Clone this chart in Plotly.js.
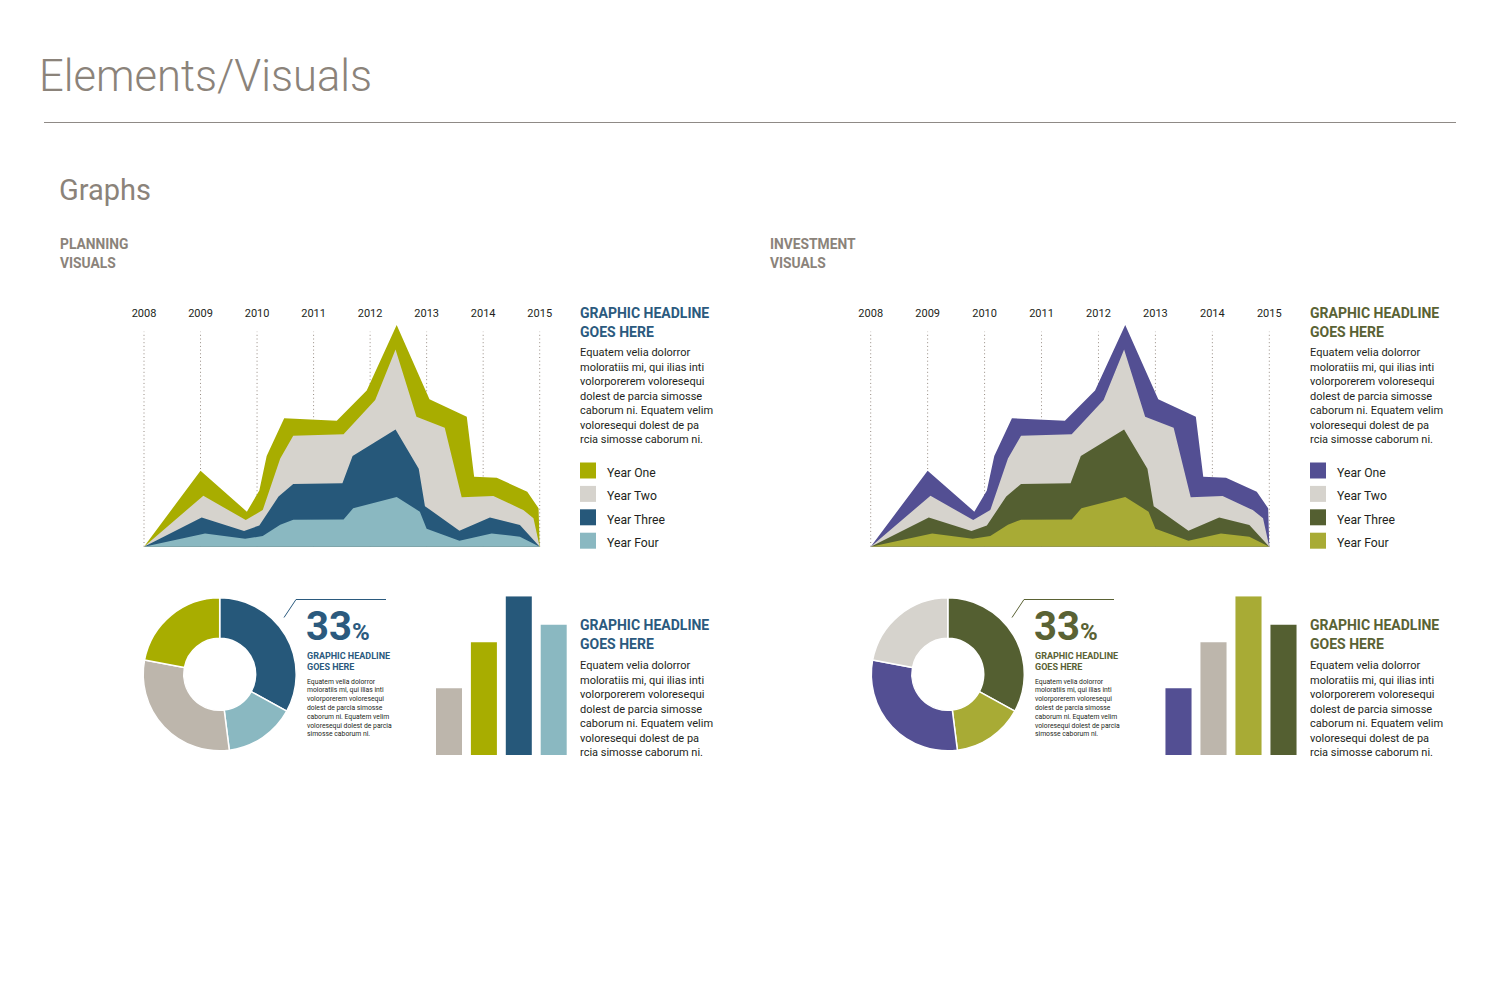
<!DOCTYPE html>
<html>
<head>
<meta charset="utf-8">
<script src="https://cdn.plot.ly/plotly-3.0.1.min.js"></script>
<style>
  html, body { margin: 0; padding: 0; background: #ffffff; }
  #page { width: 1500px; height: 1000px; }
</style>
</head>
<body>
<div id="page"></div>
<script>
// ---------- data ----------
const years = [2008, 2009, 2010, 2011, 2012, 2013, 2014, 2015];
const seriesNames = ['Year One', 'Year Two', 'Year Three', 'Year Four'];

// Outline of each band, measured from the baseline (fractional year, value)
const yearOneX = [2008, 2009.00, 2009.82, 2010.04, 2010.17, 2010.48, 2011.41, 2011.94, 2012.47, 2013.05, 2013.71, 2013.84, 2014.24, 2014.78, 2014.98, 2015];
const yearOneY = [0, 34.3, 15.8, 25.3, 40.9, 57.9, 56.8, 70.4, 100, 66.5, 58.6, 31.6, 31.1, 24.8, 17.3, 0];

const yearTwoX = [2008, 2009.05, 2009.80, 2010.10, 2010.41, 2010.64, 2011.53, 2012.09, 2012.45, 2012.82, 2013.32, 2013.62, 2014.18, 2014.71, 2014.89, 2015];
const yearTwoY = [0, 23.0, 12.0, 16.5, 39.8, 50.1, 50.7, 66.2, 89.0, 58.6, 53.7, 22.3, 22.9, 16.5, 12.8, 0];

const yearThreeX = [2008, 2009.02, 2009.77, 2010.04, 2010.38, 2010.64, 2011.51, 2011.69, 2012.45, 2012.86, 2012.97, 2013.58, 2014.12, 2014.65, 2015];
const yearThreeY = [0, 13.2, 7.1, 9.6, 22.6, 28.3, 28.6, 40.9, 52.9, 35.2, 18.3, 7.2, 13.2, 9.8, 0];

const yearFourX = [2008, 2009.08, 2009.79, 2010.10, 2010.41, 2010.64, 2011.53, 2011.70, 2012.47, 2012.88, 2013.00, 2013.58, 2014.15, 2014.65, 2015];
const yearFourY = [0, 6.0, 3.6, 4.8, 9.9, 12.2, 12.3, 17.3, 22.4, 15.8, 8.1, 2.7, 6.0, 4.5, 0];

// Donut shares, clockwise from twelve o'clock
const donutLabels = ['Year Three', 'Year Four', 'Year Two', 'Year One'];
const donutValues = [33, 15, 30, 22];

// Column heights
const barCategories = ['Q1', 'Q2', 'Q3', 'Q4'];
const barValues = [42, 71, 100, 82];

// Copy
const pageTitle = 'Elements/Visuals';
const sectionTitle = 'Graphs';
const planningLabel = ['PLANNING', 'VISUALS'];
const investmentLabel = ['INVESTMENT', 'VISUALS'];
const headlineLines = ['GRAPHIC HEADLINE', 'GOES HERE'];
const bodyLines = ['Equatem velia dolorror', 'moloratiis mi, qui ilias inti', 'volorporerem voloresequi',
  'dolest de parcia simosse', 'caborum ni. Equatem velim', 'voloresequi dolest de pa', 'rcia simosse caborum ni.'];
const smallBodyLines = ['Equatem velia dolorror', 'moloratiis mi, qui ilias inti', 'volorporerem voloresequi',
  'dolest de parcia simosse', 'caborum ni. Equatem velim', 'voloresequi dolest de parcia', 'simosse caborum ni.'];

// ---------- palettes ----------
const planning = {
  areas: ['#a8ad00', '#d6d3cd', '#26587a', '#8ab8c1'],
  donut: ['#26587a', '#8ab8c1', '#bdb6ac', '#a8ad00'],
  bars: ['#bdb6ac', '#a8ad00', '#26587a', '#8ab8c1'],
  accent: '#2b5a7e'
};
const investment = {
  areas: ['#534f93', '#d6d3cd', '#545f31', '#a8ab35'],
  donut: ['#545f31', '#a8ab35', '#534f93', '#d6d3cd'],
  bars: ['#534f93', '#bdb6ac', '#a8ab35', '#545f31'],
  accent: '#5a6234'
};

const FONT = 'Roboto, "Liberation Sans", sans-serif';
const GREY_TEXT = '#8b837a';
const INK = '#231f20';

// ---------- helpers (page pixels -> paper fractions) ----------
const W = 1500, H = 1000;
const px = v => v / W;
const py = v => 1 - v / H;

const traces = [];
const shapes = [];
const annotations = [];
const layout = {
  width: W, height: H,
  margin: { l: 0, r: 0, t: 0, b: 0 },
  paper_bgcolor: '#ffffff', plot_bgcolor: 'rgba(0,0,0,0)',
  showlegend: false,
  font: { family: FONT, color: INK },
  shapes, annotations
};

function label(text, x, y, size, color, weight) {
  annotations.push({
    text, x: px(x - 1), y: py(y), xref: 'paper', yref: 'paper',
    xanchor: 'left', yanchor: 'middle', showarrow: false, borderpad: 0,
    font: { family: FONT, size, color, weight: weight || 400 }
  });
}

function textLines(lines, x, yFirst, step, size, color, weight) {
  lines.forEach((t, i) => label(t, x, yFirst + i * step, size, color, weight));
}

// Layered area chart with year grid, headline, copy and legend
function areaPanel(n, x2008, x2015, pal, textX) {
  const ppy = (x2015 - x2008) / 7;
  const base = 546.7, peakPx = 325, topPx = 320;
  const ppu = (base - peakPx) / 100;
  const xa = 'xaxis' + (n === 1 ? '' : n), ya = 'yaxis' + (n === 1 ? '' : n);
  const xr = 'x' + (n === 1 ? '' : n), yr = 'y' + (n === 1 ? '' : n);
  layout[xa] = {
    domain: [px(x2008 - 8), px(x2015 + 8)], range: [2008 - 8 / ppy, 2015 + 8 / ppy],
    anchor: yr, side: 'top', tickvals: years, ticktext: years.map(String),
    showgrid: false, zeroline: false, showline: false, ticks: '',
    tickfont: { family: FONT, size: 11, color: INK }, fixedrange: true
  };
  layout[ya] = {
    domain: [py(base), py(topPx)], range: [0, (base - topPx) / ppu],
    anchor: xr, visible: false, fixedrange: true
  };
  years.forEach(yv => shapes.push({
    type: 'line', xref: xr, yref: 'paper', x0: yv, x1: yv, y0: py(base), y1: py(331.7),
    line: { color: '#968b82', width: 1, dash: '1px,2.7px' }, layer: 'below'
  }));
  const xs = [yearOneX, yearTwoX, yearThreeX, yearFourX];
  const ys = [yearOneY, yearTwoY, yearThreeY, yearFourY];
  seriesNames.forEach((name, i) => traces.push({
    type: 'scatter', mode: 'lines', name, x: xs[i], y: ys[i], xaxis: xr, yaxis: yr,
    fill: 'tozeroy', fillcolor: pal.areas[i], line: { width: 0, color: pal.areas[i] },
    hoverinfo: 'name'
  }));
  textLines(headlineLines, textX, 312.5, 19, 14, pal.accent, 700);
  textLines(bodyLines, textX, 352.5, 14.5, 11, INK);
  seriesNames.forEach((name, i) => {
    const top = 462.5 + i * 23.4;
    shapes.push({
      type: 'rect', xref: 'paper', yref: 'paper', x0: px(textX), x1: px(textX + 16),
      y0: py(top + 16), y1: py(top), fillcolor: pal.areas[i], line: { width: 0 }
    });
    label(name, textX + 27, top + 10.5, 12.2, INK);
  });
}

// Donut with call-out figure and copy
function donutPanel(cx, cy, r, pal, calloutX) {
  traces.push({
    type: 'pie', labels: donutLabels, values: donutValues, hole: 0.47, sort: false,
    direction: 'clockwise', rotation: 0, textinfo: 'none', hoverinfo: 'label+percent',
    marker: { colors: pal.donut, line: { color: '#ffffff', width: 1.5 } },
    domain: { x: [px(cx - r), px(cx + r)], y: [py(cy + r), py(cy - r)] }
  });
  shapes.push({
    type: 'path', xref: 'paper', yref: 'paper',
    path: `M ${px(calloutX - 23)} ${py(617.5)} L ${px(calloutX - 11)} ${py(599.5)} L ${px(calloutX + 79)} ${py(599.5)}`,
    line: { color: pal.accent, width: 1 }
  });
  label(`${donutValues[0]}<span style="font-size:24px">%</span>`, calloutX - 1, 626.5, 40, pal.accent, 700);
  textLines(headlineLines, calloutX, 655.5, 11, 9, pal.accent, 700);
  textLines(smallBodyLines, calloutX, 681.5, 8.8, 6.8, INK);
}

// Four columns with headline and copy
function barPanel(n, firstCenter, pitch, pal, textX) {
  const xa = 'xaxis' + n, ya = 'yaxis' + n;
  const left = firstCenter - pitch / 2, right = firstCenter + 3.5 * pitch;
  layout[xa] = { domain: [px(left), px(right)], range: [-0.5, 3.5], anchor: 'y' + n, visible: false, fixedrange: true, type: 'category' };
  layout[ya] = { domain: [py(755), py(596.3)], range: [0, 100], anchor: 'x' + n, visible: false, fixedrange: true };
  traces.push({
    type: 'bar', x: barCategories, y: barValues, xaxis: 'x' + n, yaxis: 'y' + n,
    marker: { color: pal.bars, line: { width: 0 } }, hoverinfo: 'y'
  });
  textLines(headlineLines, textX, 625, 19, 14, pal.accent, 700);
  textLines(bodyLines, textX, 665.5, 14.5, 11, INK);
}

layout.bargap = 1 - 26 / 34.9;

// ---------- page furniture ----------
label(pageTitle, 39, 77, 43.5, GREY_TEXT, 300);
shapes.push({ type: 'line', xref: 'paper', yref: 'paper', x0: px(44), x1: px(1456), y0: py(122.5), y1: py(122.5), line: { color: '#8f8a86', width: 1 } });
label(sectionTitle, 59, 190, 29, GREY_TEXT);
textLines(planningLabel, 60, 244, 19, 13.8, GREY_TEXT, 700);
textLines(investmentLabel, 770, 244, 19, 13.8, GREY_TEXT, 700);

// ---------- panels ----------
areaPanel(1, 144, 539.7, planning, 580);
areaPanel(2, 870.7, 1269.3, investment, 1310);
donutPanel(219.7, 674.3, 76.5, planning, 307);
donutPanel(947.8, 674.3, 76.5, investment, 1035);
barPanel(3, 449, 34.9, planning, 580);
barPanel(4, 1178.5, 35, investment, 1310);

Plotly.newPlot('page', traces, layout, { staticPlot: true, displayModeBar: false });
</script>
</body>
</html>
